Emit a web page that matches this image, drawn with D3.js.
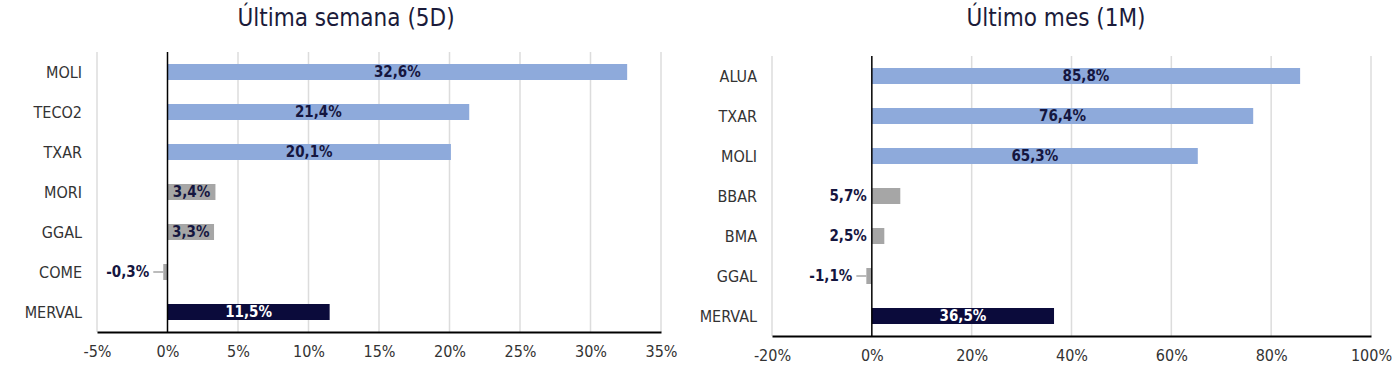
<!DOCTYPE html>
<html>
<head>
<meta charset="utf-8">
<script src="https://cdn.jsdelivr.net/npm/d3@7"></script>
<style>
    html, body { margin: 0; padding: 0; background: #fff; }
    svg { display: block; }
    text { font-family: "Liberation Sans Narrow", "DejaVu Sans Condensed", "Roboto", sans-serif; }
</style>
</head>
<body>
<div id="chart"></div>
<script>
// --- data ---
const weekTitle = "Última semana (5D)"
const weekCategories = ["MOLI", "TECO2", "TXAR", "MORI", "GGAL", "COME", "MERVAL"]
const weekValues = [32.6, 21.4, 20.1, 3.4, 3.3, -0.3, 11.5]
const weekGroups = ["top", "top", "top", "rest", "rest", "rest", "index"]
const weekTicks = [-5, 0, 5, 10, 15, 20, 25, 30, 35]

const monthTitle = "Último mes (1M)"
const monthCategories = ["ALUA", "TXAR", "MOLI", "BBAR", "BMA", "GGAL", "MERVAL"]
const monthValues = [85.8, 76.4, 65.3, 5.7, 2.5, -1.1, 36.5]
const monthGroups = ["top", "top", "top", "rest", "rest", "rest", "index"]
const monthTicks = [-20, 0, 20, 40, 60, 80, 100]

const COLOURS = { top: "#8eaadb", rest: "#a6a6a6", index: "#0b0b3b" }
const LABEL_DARK = "#15163f"

const locale = d3.formatLocale({
    decimal: ",",
    thousands: ".",
    grouping: [3],
    currency: ["", ""],
    minus: "-",
})
const fmtValue = locale.format(".1f")

const svg = d3.select("#chart")
    .append("svg")
    .attr("width", 1400)
    .attr("height", 376)

function drawPanel(opts) {
    const rows = opts.categories.map((c, i) => ({
        name: c,
        value: opts.values[i],
        group: opts.groups[i],
    }))

    const x = d3.scaleLinear()
        .domain(d3.extent(opts.ticks))
        .range(opts.xRange)

    const y = d3.scaleBand()
        .domain(opts.categories)
        .range(opts.yRange)
        .paddingInner(0.6)
        .paddingOuter(0.3)

    const g = svg.append("g")
    const top = opts.yRange[0]
    const bottom = opts.yRange[1]

    // title
    g.append("text")
        .attr("x", opts.titleX)
        .attr("y", 26)
        .attr("text-anchor", "middle")
        .attr("font-size", 24)
        .attr("fill", "#1b1b3a")
        .text(opts.title)

    // grid
    g.append("g")
        .selectAll("line")
        .data(opts.ticks.filter((t) => t !== 0))
        .enter()
        .append("line")
        .attr("x1", (d) => x(d))
        .attr("x2", (d) => x(d))
        .attr("y1", top)
        .attr("y2", bottom)
        .attr("stroke", "#dcdcdc")
        .attr("stroke-width", 1.5)

    // bottom axis
    const axis = g.append("g")
        .attr("transform", "translate(0," + bottom + ")")
        .call(
            d3.axisBottom(x)
                .tickValues(opts.ticks)
                .tickSize(0)
                .tickPadding(14)
                .tickFormat((d) => d + "%"),
        )
    axis.select(".domain").attr("stroke", "#000").attr("stroke-width", 2)
    axis.selectAll("text")
        .attr("font-size", 16)
        .attr("fill", "#333")
        .attr("font-family", null)

    // category labels
    g.append("g")
        .selectAll("text")
        .data(rows)
        .enter()
        .append("text")
        .attr("x", opts.labelX)
        .attr("y", (d) => y(d.name) + y.bandwidth() / 2)
        .attr("dy", "0.35em")
        .attr("text-anchor", "end")
        .attr("font-size", 16)
        .attr("fill", "#333")
        .text((d) => d.name)

    // bars
    g.append("g")
        .selectAll("rect")
        .data(rows)
        .enter()
        .append("rect")
        .attr("x", (d) => x(Math.min(0, d.value)))
        .attr("y", (d) => y(d.name))
        .attr("width", (d) => Math.abs(x(d.value) - x(0)))
        .attr("height", y.bandwidth())
        .attr("fill", (d) => COLOURS[d.group])

    // zero line
    g.append("line")
        .attr("x1", x(0))
        .attr("x2", x(0))
        .attr("y1", top)
        .attr("y2", bottom)
        .attr("stroke", "#000")
        .attr("stroke-width", 1.5)

    // value labels
    rows.forEach((d) => {
        const cy = y(d.name) + y.bandwidth() / 2
        const w = Math.abs(x(d.value) - x(0))
        const label = fmtValue(d.value) + "%"
        const t = g.append("text")
            .attr("y", cy)
            .attr("dy", "0.35em")
            .attr("font-size", 15)
            .attr("font-weight", "bold")
            .attr("fill", d.group === "index" ? "#fff" : LABEL_DARK)
            .text(label)
        const tw = t.node().getComputedTextLength()
        if (d.value >= 0 && tw + 4 < w) {
            t.attr("x", x(0) + w / 2).attr("text-anchor", "middle")
        } else if (d.value >= 0) {
            t.attr("x", x(0) - 5).attr("text-anchor", "end")
        } else {
            // small negative bar: label sits to the left with a leader line
            const barStart = x(d.value)
            g.append("line")
                .attr("x1", barStart - 10)
                .attr("x2", barStart)
                .attr("y1", cy)
                .attr("y2", cy)
                .attr("stroke", "#a6a6a6")
                .attr("stroke-width", 1.5)
            t.attr("x", barStart - 14).attr("text-anchor", "end")
        }
    })
}

drawPanel({
    title: weekTitle,
    titleX: 346,
    categories: weekCategories,
    values: weekValues,
    groups: weekGroups,
    ticks: weekTicks,
    xRange: [97, 661],
    yRange: [52, 332],
    labelX: 82,
})

drawPanel({
    title: monthTitle,
    titleX: 1056,
    categories: monthCategories,
    values: monthValues,
    groups: monthGroups,
    ticks: monthTicks,
    xRange: [772, 1371],
    yRange: [56, 336],
    labelX: 757,
})
</script>
</body>
</html>
